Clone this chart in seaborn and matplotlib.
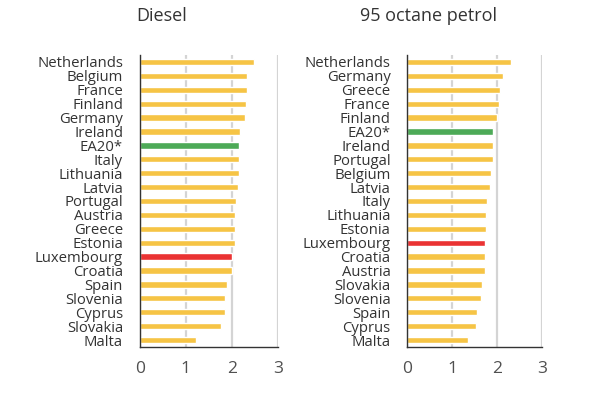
import numpy as np
import pandas as pd
import matplotlib
matplotlib.use("Agg")
import matplotlib.pyplot as plt
import seaborn as sns

sns.set_style("white")
plt.rcParams['font.family'] = ['Open Sans', 'DejaVu Sans']

# diesel prices (EUR per litre)
diesel_countries = ['Netherlands', 'Belgium', 'France', 'Finland', 'Germany', 'Ireland',
                    'EA20*', 'Italy', 'Lithuania', 'Latvia', 'Portugal', 'Austria',
                    'Greece', 'Estonia', 'Luxembourg', 'Croatia', 'Spain', 'Slovenia',
                    'Cyprus', 'Slovakia', 'Malta']
diesel_values = [2.48, 2.33, 2.32, 2.30, 2.27, 2.17, 2.16, 2.15, 2.15, 2.12, 2.09, 2.07,
                 2.06, 2.06, 2.00, 2.00, 1.89, 1.85, 1.85, 1.75, 1.22]

# 95 octane petrol prices
petrol_countries = ['Netherlands', 'Germany', 'Greece', 'France', 'Finland', 'EA20*',
                    'Ireland', 'Portugal', 'Belgium', 'Latvia', 'Italy', 'Lithuania',
                    'Estonia', 'Luxembourg', 'Croatia', 'Austria', 'Slovakia', 'Slovenia',
                    'Spain', 'Cyprus', 'Malta']
petrol_values = [2.31, 2.14, 2.06, 2.04, 2.00, 1.91, 1.91, 1.91, 1.86, 1.83, 1.78, 1.75,
                 1.75, 1.73, 1.72, 1.72, 1.66, 1.63, 1.55, 1.53, 1.34]

YELLOW = '#f6c445'
GREEN = '#4daa57'
RED = '#ea3333'
TXT = '#333333'


def bar_colours(names):
    cols = []
    for n in names:
        if n == 'EA20*':
            cols.append(GREEN)
        elif n == 'Luxembourg':
            cols.append(RED)
        else:
            cols.append(YELLOW)
    return cols


def make_panel(ax, names, vals):
    df = pd.DataFrame({'country': names, 'price': vals})
    sns.barplot(data=df, x='price', y='country', hue='country',
                palette=bar_colours(names), legend=False, orient='h',
                width=0.45, ax=ax, zorder=3, saturation=1)
    ax.set_xlim(0, 3)
    ax.set_ylim(len(names) - 0.5, -0.5)
    ax.set_xticks([0, 1, 2, 3])
    ax.set_xticklabels(['0', '1', '2', '3'])
    ax.set_xlabel('')
    ax.set_ylabel('')
    # grid lines
    ax.grid(axis='x', color='#d4d4d4', linewidth=1.6, zorder=0)
    ax.grid(axis='y', visible=False)
    # ticks at category boundaries
    ax.set_yticks(np.arange(-0.5, len(names), 1), minor=True)
    ax.tick_params(axis='y', which='major', length=0, pad=12, labelsize=10.7, labelcolor=TXT)
    ax.tick_params(axis='y', which='minor', length=4, width=1, color=TXT)
    ax.tick_params(axis='x', length=0, pad=10, labelsize=12.5, labelcolor='#505050')
    for s in ['top', 'right']:
        ax.spines[s].set_visible(False)
    for s in ['left', 'bottom']:
        ax.spines[s].set_color(TXT)
        ax.spines[s].set_linewidth(1)
        ax.spines[s].set_zorder(4)


fig = plt.figure(figsize=(6, 4), dpi=100)
ax1 = fig.add_axes([0.2328, 0.1325, 0.231, 0.73])
ax2 = fig.add_axes([0.679, 0.1325, 0.2245, 0.73])

make_panel(ax1, diesel_countries, diesel_values)
make_panel(ax2, petrol_countries, petrol_values)

fig.text(162 / 600, 1 - 16 / 400, 'Diesel', ha='center', va='center', fontsize=13, color=TXT)
fig.text(428 / 600, 1 - 16 / 400, '95 octane petrol', ha='center', va='center', fontsize=13, color=TXT)

fig.savefig('out.png', dpi=100)
